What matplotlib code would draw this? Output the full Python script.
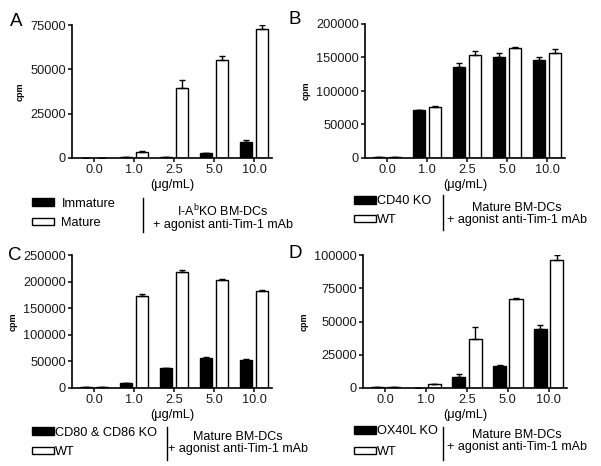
import matplotlib
matplotlib.use("Agg")
import matplotlib.pyplot as plt
from matplotlib.lines import Line2D
import numpy as np

plt.rcParams['font.family'] = ['Liberation Sans', 'DejaVu Sans']

doses = ["0.0", "1.0", "2.5", "5.0", "10.0"]

# panel A
a_immature = [200, 300, 800, 2600, 9100]
a_immature_err = [0, 0, 0, 300, 900]
a_mature = [200, 3500, 39400, 55400, 72800]
a_mature_err = [0, 300, 4800, 2200, 2200]

# panel B
b_cd40ko = [1500, 71000, 136000, 151000, 146000]
b_cd40ko_err = [0, 0, 6000, 5000, 4000]
b_wt = [1000, 75500, 153500, 163500, 156000]
b_wt_err = [0, 1500, 6000, 1500, 6000]

# panel C
c_cd80ko = [1000, 8700, 37400, 56700, 52300]
c_cd80ko_err = [0, 0, 0, 2300, 1300]
c_wt = [1500, 173300, 218000, 203000, 182600]
c_wt_err = [0, 2500, 4000, 2000, 2500]

# panel D
d_ox40lko = [400, 300, 8300, 16500, 44400]
d_ox40lko_err = [0, 0, 2000, 500, 3200]
d_wt = [800, 3000, 37100, 67200, 96000]
d_wt_err = [0, 300, 9000, 500, 4000]

panels = [
    ("A", a_immature, a_immature_err, a_mature, a_mature_err,
     [0, 25000, 50000, 75000], "Immature", "Mature",
     "I-A$\\mathregular{^b}$KO BM-DCs"),
    ("B", b_cd40ko, b_cd40ko_err, b_wt, b_wt_err,
     [0, 50000, 100000, 150000, 200000], "CD40 KO", "WT", "Mature BM-DCs"),
    ("C", c_cd80ko, c_cd80ko_err, c_wt, c_wt_err,
     [0, 50000, 100000, 150000, 200000, 250000], "CD80 & CD86 KO", "WT",
     "Mature BM-DCs"),
    ("D", d_ox40lko, d_ox40lko_err, d_wt, d_wt_err,
     [0, 25000, 50000, 75000, 100000], "OX40L KO", "WT", "Mature BM-DCs"),
]

W, H = 601, 466
fig = plt.figure(figsize=(W / 100, H / 100), dpi=100)

# pixel layout: (left, right, top, bottom) of axes
boxes = [(72, 272, 25, 158), (365, 565, 24, 158),
         (72, 272, 255, 388), (363, 567, 255, 388)]
letter_pos = [(10, 22), (289, 20), (8, 255), (289, 253)]
# legend: patch x, row1 y, row2 y, text pad, vline x, vline y0, y1, right text x, y centre
leg = [(32, 204, 224, 0.55, 143, 198, 232, 223, 217),
       (354, 202, 221, 0.05, 443, 195, 230, 517, 214),
       (32, 433, 453, 0.05, 167, 427, 460, 238, 443),
       (354, 432, 453, 0.05, 443, 427, 460, 517, 441)]

x = np.arange(len(doses))
w = 0.32
off = 0.2

for i, (letter, s1, e1, s2, e2, yt, lab1, lab2, rtext) in enumerate(panels):
    l, r, t, b = boxes[i]
    ax = fig.add_axes([l / W, 1 - b / H, (r - l) / W, (b - t) / H])
    ekw = dict(ecolor='black', elinewidth=1, capsize=2.5, capthick=1)
    bars1 = ax.bar(x - off, s1, w, color='black', edgecolor='black', lw=1,
                   yerr=[np.zeros(5), e1], error_kw=ekw, label=lab1)
    bars2 = ax.bar(x + off, s2, w, color='white', edgecolor='black', lw=1,
                   yerr=[np.zeros(5), e2], error_kw=ekw, label=lab2)
    ax.set_xlim(-0.55, 4.45)
    ax.set_ylim(0, yt[-1])
    ax.set_yticks(yt)
    ax.set_yticklabels([str(v) for v in yt])
    ax.set_xticks(x)
    ax.set_xticklabels(doses)
    ax.spines['top'].set_visible(False)
    ax.spines['right'].set_visible(False)
    ax.spines['left'].set_linewidth(1.2)
    ax.spines['bottom'].set_linewidth(1.2)
    ax.tick_params(axis='both', labelsize=9.2, width=1.2, length=3, pad=1.5,
                   colors='#1a1a1a')
    ax.set_xlabel("(μg/mL)", fontsize=9.2, labelpad=2)
    ax.set_ylabel("cpm", fontsize=6.5, fontweight='bold', labelpad=4)

    fig.text(letter_pos[i][0] / W, 1 - letter_pos[i][1] / H, letter,
             fontsize=13.5, va='center', ha='left')

    px, r1, r2, pad, vx, vy0, vy1, tx, ty = leg[i]
    lg = ax.legend(handles=[bars1, bars2], loc='upper left',
                   bbox_to_anchor=(px / W, 1 - (r1 - 6.5) / H),
                   bbox_transform=fig.transFigure, frameon=False,
                   fontsize=9.2, borderpad=0, borderaxespad=0,
                   handlelength=1.75, handleheight=0.5, handletextpad=pad,
                   labelspacing=(r2 - r1 - 12.8) / 12.8)
    fig.add_artist(Line2D([vx / W, vx / W], [1 - vy0 / H, 1 - vy1 / H],
                          transform=fig.transFigure, color='black', lw=1))
    fig.text(tx / W, 1 - ty / H, rtext + "\n+ agonist anti-Tim-1 mAb",
             fontsize=9, ha='center', va='center', multialignment='center',
             linespacing=0.95)

fig.savefig("out.png", dpi=100)
